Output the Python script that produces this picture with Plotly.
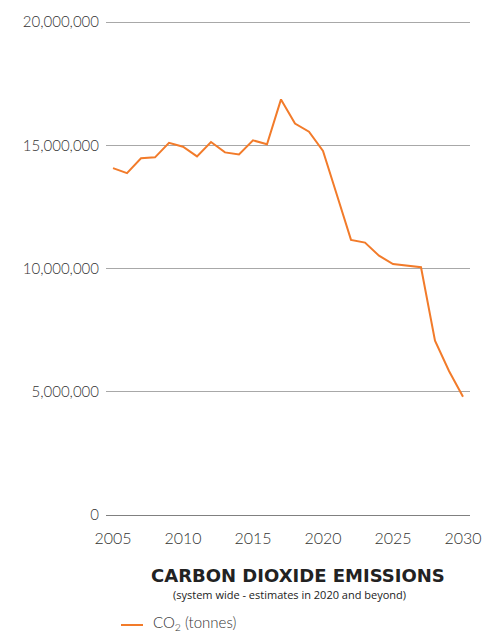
import plotly.graph_objects as go

years = list(range(2005, 2031))
co2 = [14070000, 13870000, 14470000, 14510000, 15100000, 14940000, 14550000,
       15130000, 14710000, 14630000, 15200000, 15040000, 16860000, 15880000,
       15550000, 14770000, 12970000, 11160000, 11050000, 10520000, 10180000,
       10120000, 10050000, 7070000, 5840000, 4800000]
y_ticks = [0, 5000000, 10000000, 15000000, 20000000]
y_tick_labels = ["0", "5,000,000", "10,000,000", "15,000,000", "20,000,000"]
x_ticks = [2005, 2010, 2015, 2020, 2025, 2030]
series_name = "CO<sub>2</sub> (tonnes)"
line_color = "#F27B2A"

fig = go.Figure()
fig.add_trace(go.Scatter(
    x=years, y=co2, mode="lines", name=series_name,
    line=dict(color=line_color, width=2), showlegend=False,
))

font_main = "Lato, sans-serif"
top_m, bot_m = 15, 119
plot_h = 634 - top_m - bot_m
y_top = 20000000 * (515 - top_m) / 493


def py(pix):
    return (515 - pix) / plot_h


fig.update_layout(
    width=497, height=634,
    margin=dict(l=106, r=27, t=top_m, b=bot_m),
    paper_bgcolor="white", plot_bgcolor="white",
    showlegend=False,
    xaxis=dict(range=[2004.5, 2030.5], tickvals=x_ticks, showgrid=False,
               zeroline=False, showline=False, ticks="",
               tickfont=dict(family=font_main, size=16, color="#333333", weight=300),
               ticklabelstandoff=12),
    yaxis=dict(range=[0, y_top], tickvals=y_ticks, ticktext=y_tick_labels,
               showgrid=True, gridcolor="#A8A8A8", gridwidth=1,
               zeroline=True, zerolinecolor="#808080", zerolinewidth=1,
               showline=False, ticks="",
               tickfont=dict(family=font_main, size=15, color="#333333", weight=300),
               ticklabelstandoff=6),
    shapes=[
        dict(type="line", xref="paper", yref="paper",
             x0=(121 - 106) / 364, x1=(143 - 106) / 364, y0=py(625), y1=py(625),
             line=dict(color=line_color, width=2)),
    ],
    annotations=[
        dict(text="<b>CARBON DIOXIDE EMISSIONS</b>", xref="paper", yref="paper",
             x=0.527, y=py(575), xanchor="center", yanchor="middle", showarrow=False,
             font=dict(family="DejaVu Sans, sans-serif", size=18, color="#222222")),
        dict(text="(system wide - estimates in 2020 and beyond)", xref="paper", yref="paper",
             x=0.504, y=py(594), xanchor="center", yanchor="middle", showarrow=False,
             font=dict(family="Open Sans, sans-serif", size=11, color="#222222")),
        dict(text=series_name, xref="paper", yref="paper",
             x=(151 - 106) / 364, y=py(623), xanchor="left", yanchor="middle", showarrow=False,
             font=dict(family=font_main, size=15, color="#333333", weight=300)),
    ],
)

fig.write_html("out.html")
